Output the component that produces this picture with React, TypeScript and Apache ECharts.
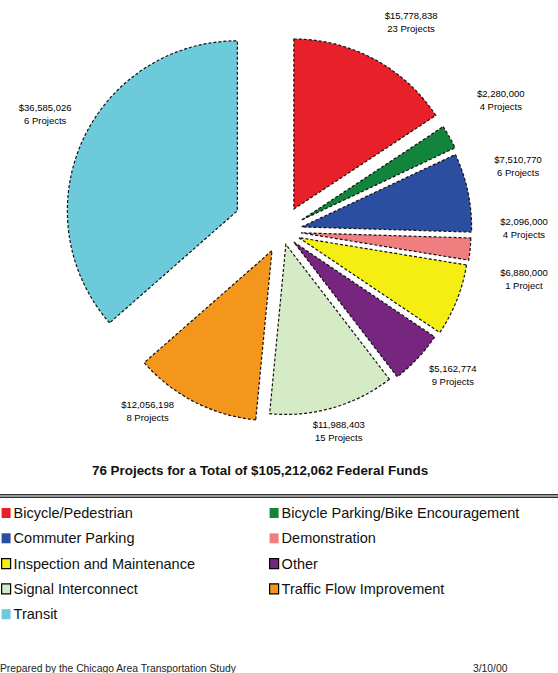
import React, { useEffect, useRef } from "react";
import * as echarts from "echarts";

const categories = [
  "Bicycle/Pedestrian",
  "Bicycle Parking/Bike Encouragement",
  "Commuter Parking",
  "Demonstration",
  "Inspection and Maintenance",
  "Other",
  "Signal Interconnect",
  "Traffic Flow Improvement",
  "Transit",
];
const amounts = [15778838, 2280000, 7510770, 2096000, 6880000, 5162774, 11988403, 12056198, 36585026];
const projectCounts = [23, 4, 6, 4, 1, 9, 15, 8, 6];
const titleText = "76 Projects for a Total of $105,212,062 Federal Funds";
const footerLeft = "Prepared by the Chicago Area Transportation Study";
const footerRight = "3/10/00";

const colors = ["#e8202a", "#12843c", "#2c4ea0", "#f07e80", "#f4ee12", "#77267f", "#d5ebc6", "#f4961c", "#6ccadb"];
const legendBorder = [false, false, false, false, true, true, true, true, false];
const explode = [25, 22, 20, 19, 18, 16, 14, 22, 49];
const labelDist = [245.6, 255, 244.8, 242, 246.7, 223.6, 208, 224.4, 264.3];
const labelTurn = [3.4, -1.6, -3.6, -6.1, -10.3, -3, 0.2, 9.7, 2];

const FONT = '"Liberation Sans", Arial, sans-serif';
const CX = 282;
const CY = 231;
const R = 170;

const fmt = (v: number) => "$" + v.toLocaleString("en-US");

export default function App() {
  const ref = useRef<HTMLDivElement>(null);
  useEffect(() => {
    if (!ref.current) return;
    const chart = echarts.init(ref.current, undefined, { renderer: "svg" });
    const total = amounts.reduce((a, b) => a + b, 0);
    const starts: number[] = [];
    let acc = 0;
    amounts.forEach((v) => {
      starts.push((acc / total) * 360);
      acc += v;
    });
    const ends = amounts.map((v, i) => starts[i] + (v / total) * 360);

    const series = categories.map((name, i) => ({
      type: "custom",
      name,
      coordinateSystem: "none",
      itemStyle: { color: colors[i] },
      data: [[amounts[i], projectCounts[i]]],
      renderItem: (_p: any, api: any) => {
        const a0 = starts[i];
        const a1 = ends[i];
        const mDeg = (a0 + a1) / 2;
        const m = (mDeg * Math.PI) / 180;
        const ox = CX + explode[i] * Math.sin(m);
        const oy = CY - explode[i] * Math.cos(m);
        const lm = ((mDeg + labelTurn[i]) * Math.PI) / 180;
        const lx = CX + labelDist[i] * Math.sin(lm);
        const ly = CY - labelDist[i] * Math.cos(lm);
        const cnt = api.value(1);
        return {
          type: "group",
          children: [
            {
              type: "sector",
              shape: {
                cx: ox,
                cy: oy,
                r: R,
                r0: 0,
                startAngle: ((a0 - 90) * Math.PI) / 180,
                endAngle: ((a1 - 90) * Math.PI) / 180,
                clockwise: true,
              },
              style: { fill: colors[i], stroke: "#111", lineWidth: 1.2, lineDash: [3, 2] },
            },
            {
              type: "text",
              x: lx,
              y: ly,
              style: {
                text: fmt(api.value(0)) + "\n" + cnt + (cnt === 1 ? " Project" : " Projects"),
                fill: "#000",
                font: "9.5px " + FONT,
                align: "center",
                verticalAlign: "middle",
                lineHeight: 13,
              },
            },
          ],
        };
      },
    }));

    const legendData = (idx: number[]) =>
      idx.map((i) => ({
        name: categories[i],
        itemStyle: legendBorder[i]
          ? { color: colors[i], borderColor: "#000", borderWidth: 1.2 }
          : { color: colors[i], borderWidth: 0 },
      }));
    const legendBase = {
      orient: "vertical",
      top: 505,
      padding: 0,
      itemWidth: 9,
      itemHeight: 10,
      itemGap: 9.3,
      icon: "rect",
      selectedMode: false,
      textStyle: { fontSize: 14.5, fontFamily: FONT, color: "#111", lineHeight: 16, padding: [0, 0, 0, -2] },
    };

    chart.setOption({
      animation: false,
      title: {
        text: titleText,
        left: 87,
        top: 459,
        textStyle: { fontSize: 13.4, fontWeight: "bold", fontFamily: FONT, color: "#111" },
      },
      legend: [
        { ...legendBase, left: 1, data: legendData([0, 2, 4, 6, 8]) },
        { ...legendBase, left: 269, data: legendData([1, 3, 5, 7]) },
      ],
      graphic: [
        { type: "rect", shape: { x: 0, y: 494, width: 558, height: 1.5 }, style: { fill: "#333" } },
        { type: "rect", shape: { x: 0, y: 496.5, width: 558, height: 1.5 }, style: { fill: "#333" } },
        {
          type: "text",
          x: 0,
          y: 668,
          style: { text: footerLeft, font: "10.3px " + FONT, fill: "#222", verticalAlign: "middle" },
        },
        {
          type: "text",
          x: 473,
          y: 668,
          style: { text: footerRight, font: "10.3px " + FONT, fill: "#222", verticalAlign: "middle" },
        },
      ],
      series,
    });
    return () => chart.dispose();
  }, []);
  return (
    <div
      ref={ref}
      style={{ position: "fixed", left: 0, top: 0, width: 558, height: 673, background: "#fff" }}
    />
  );
}
